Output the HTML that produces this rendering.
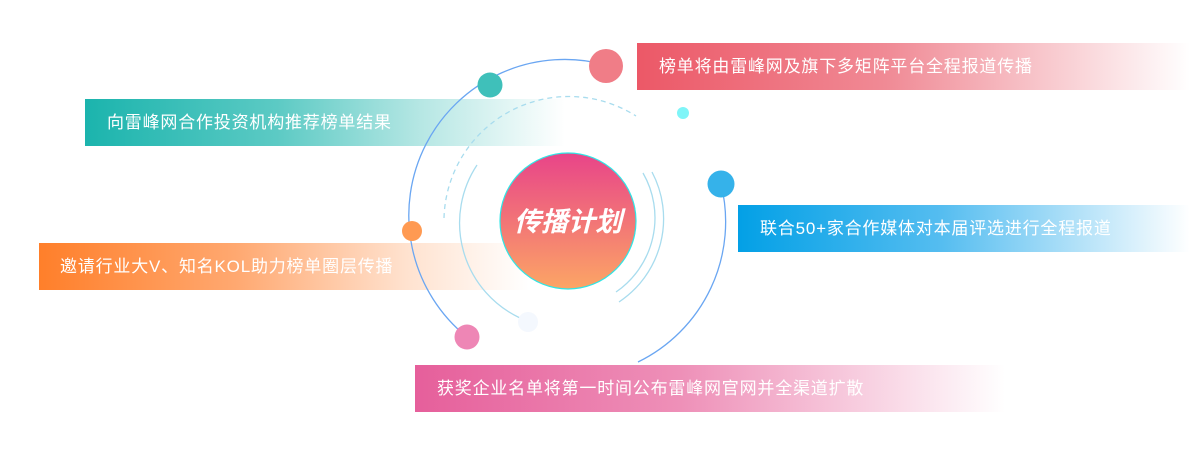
<!DOCTYPE html>
<html><head><meta charset="utf-8"><style>
body{margin:0;width:1190px;height:456px;background:#fff;position:relative;overflow:hidden;font-family:"Liberation Sans","Noto Sans CJK SC",sans-serif}
.bar{position:absolute;height:47px;line-height:47px;color:#fff;font-size:17px;letter-spacing:0.8px;box-sizing:border-box;white-space:nowrap}
svg{position:absolute;left:0;top:0}
</style></head><body>
<div class="bar" style="left:637px;top:43px;width:553px;padding-left:22px;background:linear-gradient(90deg,#ec5867,#f08a95 45%,rgba(255,255,255,0) 100%)">榜单将由雷峰网及旗下多矩阵平台全程报道传播</div>
<div class="bar" style="left:85px;top:99px;width:480px;padding-left:22px;background:linear-gradient(90deg,#1bb4ad,#5ccac4 40%,#b6e7e4 70%,rgba(255,255,255,0) 100%)">向雷峰网合作投资机构推荐榜单结果</div>
<div class="bar" style="left:738px;top:205px;width:452px;padding-left:22px;background:linear-gradient(90deg,#03a0e6,#55bdf0 45%,rgba(255,255,255,0) 100%)">联合50+家合作媒体对本届评选进行全程报道</div>
<div class="bar" style="left:39px;top:243px;width:490px;padding-left:21px;background:linear-gradient(90deg,#ff7f2a,#ffa870 40%,#ffe2cf 75%,rgba(255,255,255,0) 100%)">邀请行业大V、知名KOL助力榜单圈层传播</div>
<div class="bar" style="left:415px;top:365px;width:590px;padding-left:22px;background:linear-gradient(90deg,#e65f9b,#ee90b8 45%,rgba(255,255,255,0) 100%)">获奖企业名单将第一时间公布雷峰网官网并全渠道扩散</div>
<svg width="1190" height="456">
<defs><linearGradient id="g" x1="0" y1="0" x2="0" y2="1"><stop offset="0" stop-color="#e84489"/><stop offset="1" stop-color="#fca565"/></linearGradient></defs>
<path d="M606 65 A156 156 0 0 0 467 337" fill="none" stroke="#6aa6f2" stroke-width="1.3"/>
<path d="M721 184 A156 156 0 0 1 638 362" fill="none" stroke="#6aa6f2" stroke-width="1.3"/>
<path d="M444 218 A125 125 0 0 1 636 116" fill="none" stroke="#a8dcee" stroke-width="1.3" stroke-dasharray="5 4"/>
<path d="M477 165 A105 105 0 0 0 520 318" fill="none" stroke="#a8dcee" stroke-width="1.3"/>
<path d="M643 173 A90 90 0 0 1 616 292" fill="none" stroke="#a8dcee" stroke-width="1.3"/>
<path d="M652 172 A100 100 0 0 1 619 302" fill="none" stroke="#a8dcee" stroke-width="1.3"/>
<circle cx="568" cy="221" r="68" fill="url(#g)" stroke="#2fe6e6" stroke-width="1.2"/>
<text x="568" y="231" text-anchor="middle" font-family="Liberation Sans,Noto Sans CJK SC,sans-serif" font-size="27" font-weight="bold" font-style="italic" fill="#fff">传播计划</text>
<circle cx="606" cy="66" r="17" fill="#f07d87"/>
<circle cx="490" cy="85" r="12.5" fill="#3fc0ba"/>
<circle cx="683" cy="113" r="6" fill="#7ff5f8"/>
<circle cx="721" cy="184" r="13.5" fill="#35b2ea"/>
<circle cx="412" cy="231" r="10" fill="#ff9a52"/>
<circle cx="467" cy="337" r="12.5" fill="#ee86b5"/>
<circle cx="528" cy="322" r="10" fill="#f4f8fe"/>
</svg>
</body></html>
